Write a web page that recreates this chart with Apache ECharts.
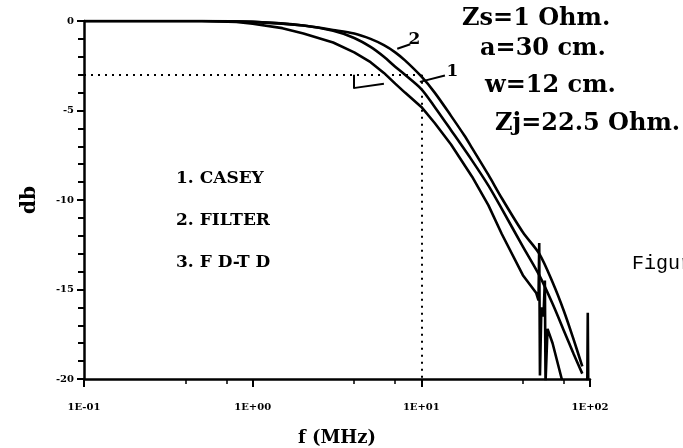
<!DOCTYPE html>
<html>
<head>
<meta charset="utf-8">
<script src="https://cdn.jsdelivr.net/npm/echarts@6/dist/echarts.min.js"></script>
<style>
html,body{margin:0;padding:0;background:#fff;}
#c{width:683px;height:448px;}
</style>
</head>
<body>
<div id="c"></div>
<script>
// ---- data (frequency in MHz, attenuation in dB) ----
const caseyFreq  = [0.1, 0.5, 1, 2, 3, 4, 5, 6, 7, 8, 10, 12, 15, 20, 25, 30, 40, 50, 60, 70, 80, 90];
const caseyDb    = [0, 0, -0.05, -0.25, -0.55, -0.95, -1.45, -2.0, -2.55, -3.0, -3.8, -4.8, -6.1, -7.8, -9.2, -10.5, -12.6, -14.2, -15.8, -17.3, -18.6, -19.7];

const filterFreq = [0.1, 0.5, 1, 2, 3, 4, 5, 6, 7, 8, 10, 12, 15, 18, 20, 25, 30, 40, 50, 60, 70, 80, 90];
const filterDb   = [0, 0, -0.05, -0.25, -0.5, -0.7, -1.0, -1.35, -1.75, -2.2, -3.1, -4.0, -5.3, -6.4, -7.1, -8.6, -9.9, -11.8, -13.0, -14.6, -16.2, -17.8, -19.3];

const fdtdFreq   = [0.1, 0.5, 0.8, 1, 1.5, 2, 3, 4, 5, 6, 7, 8, 10, 12, 15, 20, 25, 30, 40, 48, 49.5, 50, 50.5, 51.5, 53, 54, 54.5, 56, 60, 68, 80, 96, 97, 98];
const fdtdDb     = [0, 0, -0.05, -0.15, -0.4, -0.7, -1.2, -1.75, -2.3, -2.9, -3.5, -4.0, -4.8, -5.7, -6.9, -8.7, -10.3, -11.9, -14.2, -15.2, -15.6, -12.4, -19.8, -16.0, -16.5, -14.5, -20.2, -17.2, -18.0, -20.0, -21.5, -22.5, -16.3, -22.5];

const xTickLabels = {'-1': '1E-01', '0': '1E+00', '1': '1E+01', '2': '1E+02'};
const yTicks = [0, -5, -10, -15, -20];
const legendLines = ['1. CASEY', '2. FILTER', '3. F D-T D'];
const paramLines = ['Zs=1 Ohm.', 'a=30 cm.', 'w=12 cm.', 'Zj=22.5 Ohm.'];

const pairs = (f, d) => f.map((v, i) => [v, d[i]]);

const chart = echarts.init(document.getElementById('c'), null, {renderer: 'canvas'});
const serif = 'DejaVu Serif';
const lineStyle = {color: '#000', width: 2.6};

const markSolid = {
  silent: true, symbol: ['none', 'none'], animation: false,
  label: {show: false},
  lineStyle: {color: '#000', width: 2, type: 'solid'},
  data: [
    // leader for "2"
    [{coord: [7.2, -1.55]}, {coord: [8.6, -1.3]}],
    // leader for "1"
    [{coord: [9.8, -3.4]}, {coord: [13.8, -3.05]}],
    // bracket
    [{coord: [3.95, -3.0]}, {coord: [3.95, -3.75]}],
    [{coord: [3.95, -3.75]}, {coord: [6.0, -3.5]}]
  ]
};
const markDotted = {
  silent: true, symbol: ['none', 'none'], animation: false,
  label: {show: false},
  lineStyle: {color: '#000', width: 2, type: [2, 5]},
  data: [
    [{coord: [0.1, -3]}, {coord: [10, -3]}],
    [{coord: [10, -3]}, {coord: [10, -20]}]
  ]
};
const markLabels = {
  silent: true, animation: false, symbol: 'circle', symbolSize: 0,
  label: {show: true, color: '#000', fontFamily: serif, fontWeight: 'bold', fontSize: 17, formatter: p => p.name, position: 'inside'},
  data: [
    {name: '2', coord: [9.1, -1.05]},
    {name: '1', coord: [15.3, -2.85]}
  ]
};

chart.setOption({
  animation: false,
  backgroundColor: '#fff',
  grid: {left: 84, right: 93, top: 21, bottom: 69, containLabel: false, outerBoundsMode: 'none'},
  xAxis: {
    type: 'log', logBase: 10, min: 0.1, max: 100,
    name: 'f (MHz)', nameLocation: 'middle', nameGap: 50,
    nameTextStyle: {fontFamily: serif, fontWeight: 'bold', fontSize: 18, color: '#000'},
    axisLine: {onZero: false, lineStyle: {color: '#000', width: 2.5}},
    axisTick: {show: true, length: 8, lineStyle: {color: '#000', width: 2}},
    minorTick: {show: true, splitNumber: 3, length: 5, lineStyle: {color: '#000', width: 1.5}},
    splitLine: {show: false},
    axisLabel: {
      margin: 23, color: '#000', fontFamily: serif, fontWeight: 'bold', fontSize: 10,
      formatter: v => xTickLabels[String(Math.round(Math.log10(v)))] || ''
    }
  },
  yAxis: {
    type: 'value', min: -20, max: 0, interval: 5,
    name: 'db', nameLocation: 'middle', nameGap: 44, nameRotate: 90,
    nameTextStyle: {fontFamily: serif, fontWeight: 'bold', fontSize: 20, color: '#000'},
    axisLine: {show: true, onZero: false, lineStyle: {color: '#000', width: 2.5}},
    axisTick: {show: true, length: 7, lineStyle: {color: '#000', width: 2}},
    minorTick: {show: true, splitNumber: 5, length: 6, lineStyle: {color: '#000', width: 2}},
    splitLine: {show: false},
    axisLabel: {
      margin: 10, color: '#000', fontFamily: serif, fontWeight: 'bold', fontSize: 10,
      formatter: v => (yTicks.indexOf(v) >= 0 ? String(v) : '')
    }
  },
  series: [
    {name: 'CASEY', type: 'line', data: pairs(caseyFreq, caseyDb), symbol: 'none', smooth: 0.3, lineStyle, clip: true,
     markLine: markSolid, markPoint: markLabels},
    {name: 'FILTER', type: 'line', data: pairs(filterFreq, filterDb), symbol: 'none', smooth: 0.3, lineStyle, clip: true,
     markLine: markDotted},
    {name: 'F D-T D', type: 'line', data: pairs(fdtdFreq, fdtdDb), symbol: 'none', smooth: false, lineStyle, clip: true}
  ],
  graphic: [
    ...legendLines.map((t, i) => ({
      type: 'text', left: 176, top: 170 + i * 42,
      style: {text: t, fill: '#000', font: 'bold 17px "DejaVu Serif"'}
    })),
    ...paramLines.map((t, i) => ({
      type: 'text', left: [462, 480, 485, 495][i], top: [7, 37, 74, 112][i],
      style: {text: t, fill: '#000', font: 'bold 24px "DejaVu Serif"'}
    })),
    {type: 'text', left: 632, top: 254, style: {text: 'Figure', fill: '#000', font: '20px "Liberation Mono"'}}
  ]
});
</script>
</body>
</html>
